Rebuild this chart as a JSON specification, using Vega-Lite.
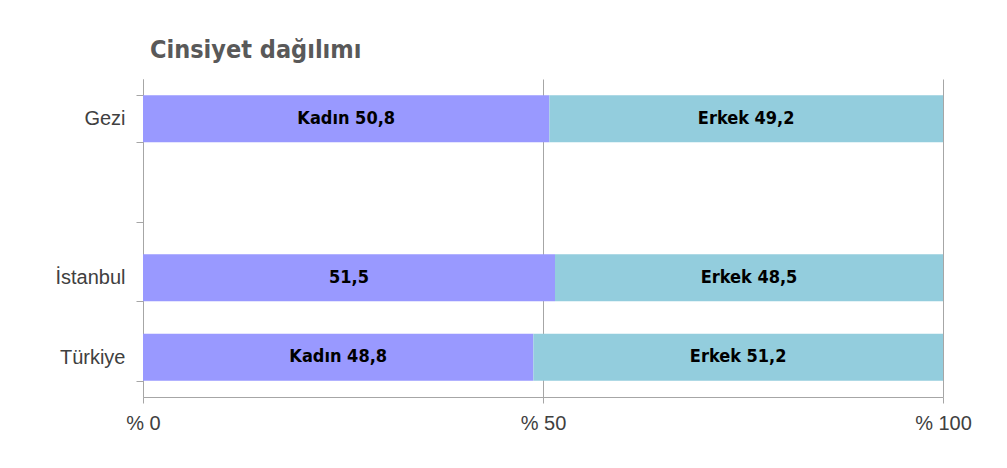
{
  "$schema": "https://vega.github.io/schema/vega-lite/v6.json",
  "width": 800,
  "height": 318,
  "autosize": {"type": "none"},
  "padding": {"left": 143, "top": 79, "right": 64, "bottom": 71},
  "background": "white",
  "config": {"view": {"stroke": null}},
  "title": {
    "text": "Cinsiyet dağılımı",
    "anchor": "start",
    "frame": "group",
    "dx": 7,
    "offset": 6,
    "font": "DejaVu Sans Condensed, Roboto, sans-serif",
    "fontSize": 25,
    "fontWeight": "bold",
    "color": "#595959"
  },
  "data": {
    "values": [
      {"yer": "Gezi", "cinsiyet": "Kadın", "oran": 50.8, "etiket": "Kadın 50,8"},
      {"yer": "Gezi", "cinsiyet": "Erkek", "oran": 49.2, "etiket": "Erkek 49,2"},
      {"yer": "İstanbul", "cinsiyet": "Kadın", "oran": 51.5, "etiket": "51,5"},
      {"yer": "İstanbul", "cinsiyet": "Erkek", "oran": 48.5, "etiket": "Erkek 48,5"},
      {"yer": "Türkiye", "cinsiyet": "Kadın", "oran": 48.8, "etiket": "Kadın 48,8"},
      {"yer": "Türkiye", "cinsiyet": "Erkek", "oran": 51.2, "etiket": "Erkek 51,2"}
    ]
  },
  "transform": [
    {"stack": "oran", "groupby": ["yer"], "sort": [{"field": "cinsiyet", "order": "descending"}], "as": ["x0", "x1"]},
    {"calculate": "(datum.x0 + datum.x1) / 2", "as": "xm"}
  ],
  "encoding": {
    "y": {
      "field": "yer",
      "type": "nominal",
      "scale": {"domain": ["Gezi", " ", "İstanbul", "Türkiye"], "paddingInner": 0.41, "paddingOuter": 0.205},
      "axis": {
        "title": null,
        "domainColor": "#a6a6a6",
        "tickColor": "#a6a6a6",
        "tickSize": 7,
        "tickBand": "extent",
        "labelFont": "Liberation Sans",
        "labelFontSize": 20,
        "labelColor": "#404040",
        "labelPadding": 11
      }
    }
  },
  "layer": [
    {
      "mark": {"type": "bar"},
      "encoding": {
        "x": {
          "field": "x0",
          "type": "quantitative",
          "scale": {"domain": [0, 100]},
          "axis": {
            "title": null,
            "values": [0, 50, 100],
            "labelExpr": "'% ' + datum.value",
            "grid": true,
            "gridColor": "#a6a6a6",
            "domainColor": "#a6a6a6",
            "tickColor": "#a6a6a6",
            "tickSize": 6,
            "labelFont": "Liberation Sans",
            "labelFontSize": 20,
            "labelColor": "#404040",
            "labelPadding": 10,
            "labelFlush": false
          }
        },
        "x2": {"field": "x1"},
        "color": {
          "field": "cinsiyet",
          "type": "nominal",
          "scale": {"domain": ["Kadın", "Erkek"], "range": ["#9999ff", "#93cddd"]},
          "legend": null
        }
      }
    },
    {
      "mark": {"type": "text", "font": "DejaVu Sans Condensed, Roboto, sans-serif", "fontWeight": "bold", "fontSize": 18, "color": "#000000"},
      "encoding": {
        "x": {"field": "xm", "type": "quantitative"},
        "text": {"field": "etiket"}
      }
    }
  ]
}
